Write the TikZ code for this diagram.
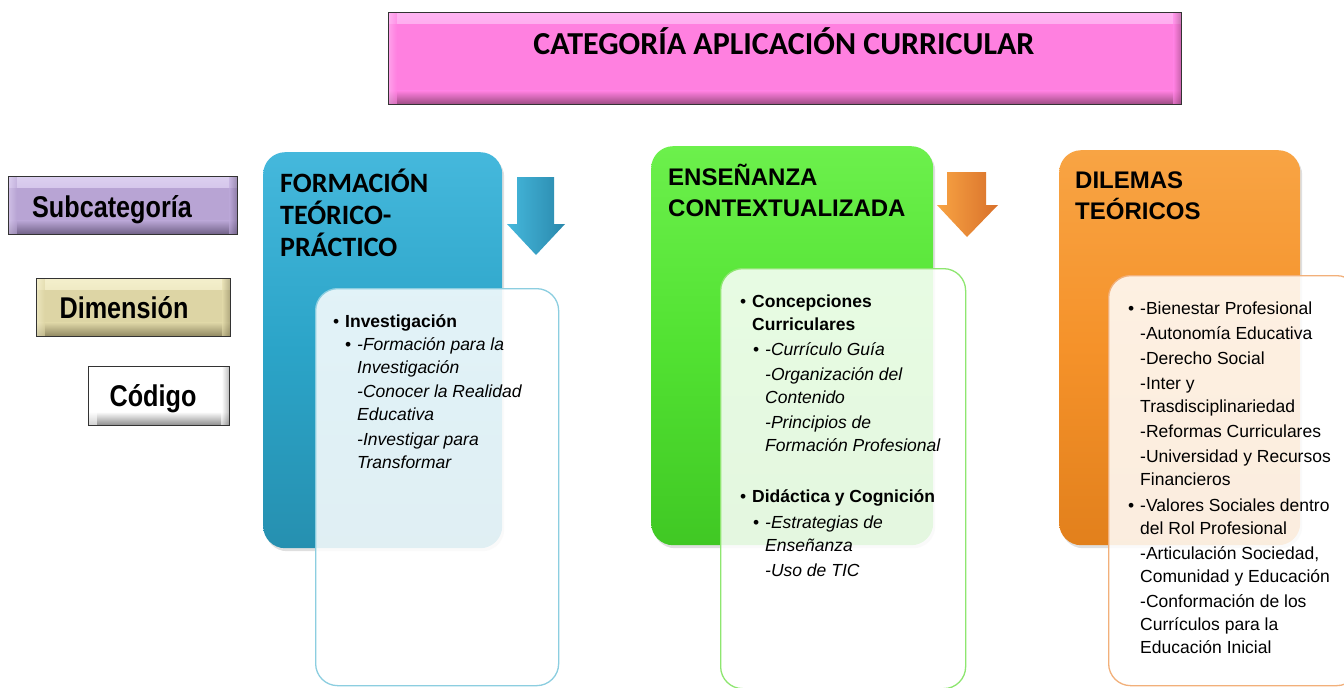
\documentclass[tikz,border=0pt]{standalone}
\usepackage{fontspec}
\setmainfont{Liberation Sans}
\newfontfamily\calb{Carlito}
\newfontfamily\narrowf[FakeStretch=0.84]{Liberation Sans}
\usetikzlibrary{shadows}
\definecolor{magentaT}{HTML}{FF80E0}
\definecolor{magentaL}{HTML}{FFB4F2}
\definecolor{magentaD}{HTML}{9A4A80}
\definecolor{lavB}{HTML}{B8A4D4}
\definecolor{lavL}{HTML}{DCCFF0}
\definecolor{lavD}{HTML}{6E5E84}
\definecolor{khB}{HTML}{DDD5A5}
\definecolor{khL}{HTML}{F4EFCC}
\definecolor{khD}{HTML}{8E8660}
\definecolor{cdB}{HTML}{FFFFFF}
\definecolor{cdD}{HTML}{8A8A8A}
\definecolor{blueP}{HTML}{2BA4C8}
\definecolor{blueL}{HTML}{45B8DC}
\definecolor{blueD}{HTML}{2690B0}
\definecolor{blueE}{HTML}{8CCEE0}
\definecolor{greenP}{HTML}{52E232}
\definecolor{greenL}{HTML}{6CF04C}
\definecolor{greenD}{HTML}{40C824}
\definecolor{greenE}{HTML}{8EE670}
\definecolor{orP}{HTML}{F5922A}
\definecolor{orL}{HTML}{F8A444}
\definecolor{orD}{HTML}{E2801C}
\definecolor{orE}{HTML}{F2B07A}
\definecolor{arrBD}{HTML}{2A88AC}
\definecolor{arrOD}{HTML}{D8702A}
\tikzset{
  x=1pt, y=-1pt,
  bevel/.style n args={3}{draw=black!80, line width=1.4pt, inner sep=0pt, anchor=north west, fill=#1,
    path picture={
      \shade[top color=#2, bottom color=#1] (path picture bounding box.north west) rectangle ([yshift=-11pt]path picture bounding box.north east);
      \shade[top color=#1, bottom color=#3] ([yshift=14pt]path picture bounding box.south west) rectangle (path picture bounding box.south east);
      \shade[left color=#2, right color=#1, opacity=0.6] (path picture bounding box.north west) rectangle ([xshift=8pt]path picture bounding box.south west);
      \shade[left color=#1, right color=#3, opacity=0.6] ([xshift=-8pt]path picture bounding box.north east) rectangle (path picture bounding box.south east);
    }},
  panel/.style={rounded corners=22pt, inner sep=0pt, anchor=north west, draw=none},
  whitepanel/.style={rounded corners=22pt, inner sep=0pt, anchor=north west, fill=white, fill opacity=0.86, line width=1.3pt},
  topstrut/.style={execute at begin node={\rule{0pt}{#1}}},
  ttl/.style={anchor=north west, inner sep=0pt, align=left, topstrut=24pt, font=\bfseries\fontsize{24}{31}\selectfont},
  bodyb/.style={anchor=north west, inner sep=0pt, align=left, topstrut=17pt, font=\bfseries\fontsize{17.5}{23}\selectfont},
  bodyi/.style={anchor=north west, inner sep=0pt, align=left, topstrut=17pt, font=\itshape\fontsize{17.5}{23}\selectfont},
  bodyr/.style={anchor=north west, inner sep=0pt, align=left, topstrut=17pt, font=\fontsize{17.5}{23}\selectfont},
  bul/.style={anchor=base west, inner sep=0pt, font=\fontsize{17.5}{23}\selectfont},
  lbl/.style={font=\narrowf\bfseries\fontsize{30}{30}\selectfont, inner sep=0pt}
}
\begin{document}
\begin{tikzpicture}
\useasboundingbox (0,0) rectangle (1344,688);
\fill[white] (0,0) rectangle (1344,688);

% title
\node[bevel={magentaT}{magentaL}{magentaD}, minimum width=793pt, minimum height=92pt] (title) at (388,12) {};
\node[font=\calb\bfseries\fontsize{32}{32}\selectfont, anchor=base, inner sep=0pt] (titletxt) at (784,54) {CATEGORÍA APLICACIÓN CURRICULAR};

% legend boxes
\node[bevel={lavB}{lavL}{lavD}, minimum width=229pt, minimum height=58pt] (sub) at (8,176) {};
\node[lbl, anchor=base] (subt) at (112,217) {Subcategoría};
\node[bevel={khB}{khL}{khD}, minimum width=194pt, minimum height=58pt] (dim) at (36,278) {};
\node[lbl, anchor=base] (dimt) at (124,318) {Dimensión};
\node[bevel={cdB}{cdB}{cdD}, minimum width=141pt, minimum height=59pt] (cod) at (88,366) {};
\node[lbl, anchor=base] (codt) at (153,406) {Código};

% colored panels
\node[panel, minimum width=239pt, minimum height=396pt, top color=blueL, bottom color=blueD, middle color=blueP, drop shadow={opacity=0.25, shadow xshift=2pt, shadow yshift=-3pt}] (p1) at (263,152) {};
\node[panel, minimum width=282pt, minimum height=399pt, top color=greenL, bottom color=greenD, middle color=greenP, drop shadow={opacity=0.25, shadow xshift=2pt, shadow yshift=-3pt}] (p2) at (651,146) {};
\node[panel, minimum width=241pt, minimum height=395pt, top color=orL, bottom color=orD, middle color=orP, drop shadow={opacity=0.25, shadow xshift=2pt, shadow yshift=-3pt}] (p3) at (1059,150) {};

% panel titles
\node[ttl, topstrut=28pt, font=\calb\bfseries\fontsize{28}{32}\selectfont] (t1) at (280,169) {FORMACIÓN\\TEÓRICO-\\PRÁCTICO};
\node[ttl] (t2) at (668,164) {ENSEÑANZA\\CONTEXTUALIZADA};
\node[ttl] (t3) at (1075,172) {DILEMAS\\TEÓRICOS};

% arrows
\shade[left color=blueL, right color=arrBD] (517,177) -- (554,177) -- (554,224) -- (565,224) -- (536,255) -- (507,224) -- (517,224) -- cycle;
\shade[left color=orL, right color=arrOD] (947,172) -- (986,172) -- (986,205) -- (998,205) -- (967,237) -- (937,205) -- (947,205) -- cycle;

% white panels
\node[whitepanel, draw=blueE, minimum width=243pt, minimum height=397pt] (w1) at (315,288) {};
\node[whitepanel, draw=greenE, minimum width=245pt, minimum height=420pt] (w2) at (720,268) {};
\node[whitepanel, draw=orE, minimum width=250pt, minimum height=410pt] (w3) at (1108,275) {};

% texts panel 1
\node[bul] (b11) at (333,327) {•};
\node[bodyb] (x11) at (345,310) {Investigación};
\node[bul] (b12) at (345,350) {•};
\node[bodyi] (x12) at (357,337) {-Formación para la\\Investigación\\[1.5pt]-Conocer la Realidad\\Educativa\\[1.5pt]-Investigar para\\Transformar};

% texts panel 2
\node[bul] (b21) at (740,307) {•};
\node[bodyb] (x21) at (752,295) {Concepciones\\Curriculares};
\node[bul] (b22) at (753,355) {•};
\node[bodyi] (x22) at (765,342) {-Currículo Guía\\[2pt]-Organización del\\Contenido\\[2pt]-Principios de\\Formación Profesional};
\node[bul] (b23) at (740,502) {•};
\node[bodyb] (x23) at (752,485) {Didáctica y Cognición};
\node[bul] (b24) at (753,528) {•};
\node[bodyi] (x24) at (765,516) {-Estrategias de\\Enseñanza\\[2pt]-Uso de TIC};

% texts panel 3
\node[bul] (b31) at (1128,314) {•};
\node[bodyr] (x31) at (1140,302) {-Bienestar Profesional\\[2pt]-Autonomía Educativa\\[2pt]-Derecho Social\\[2pt]-Inter y\\Trasdisciplinariedad\\[2pt]-Reformas Curriculares\\[2pt]-Universidad y Recursos\\Financieros};
\node[bul] (b32) at (1128,511) {•};
\node[bodyr] (x32) at (1140,499) {-Valores Sociales dentro\\del Rol Profesional\\[2pt]-Articulación Sociedad,\\Comunidad y Educación\\[2pt]-Conformación de los\\Currículos para la\\Educación Inicial};
\end{tikzpicture}
\end{document}
